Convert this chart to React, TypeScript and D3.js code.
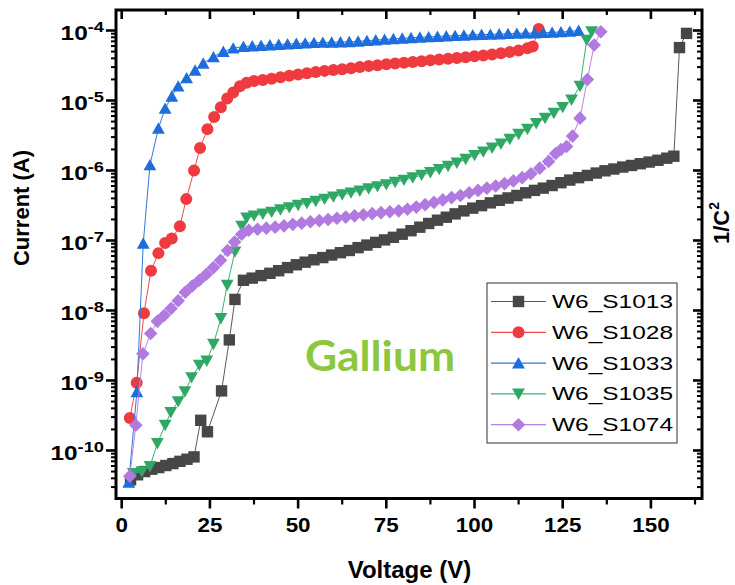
import React from 'react';
import * as d3 from 'd3';

// ---- data: I-V sweeps of five devices (voltage in V, current in A) ----
const seriesNames = ['W6_S1013', 'W6_S1028', 'W6_S1033', 'W6_S1035', 'W6_S1074'];

const voltS1013 = [2.5, 4.5, 6.5, 8.5, 10.5, 12.5, 14.5, 16.5, 18.5, 20.5, 22.4, 24.3, 28.3, 30.5, 32.1, 34.5,
  37, 39.5, 42, 44.5, 47, 49.5, 52, 54.5, 57, 59.5, 62, 64.5, 67, 69.5, 72, 74.5, 77, 79.5, 82, 84.5, 87, 89.5,
  92, 94.5, 97, 99.5, 102, 104.5, 107, 109.5, 112, 114.5, 117, 119.5, 122, 124.5, 127, 129.5, 132, 134.5, 137,
  139.5, 142, 144.5, 147, 149.5, 152, 154.5, 156.5, 158.1, 160.1];
const currS1013 = [3.8e-11, 4.5e-11, 5.0e-11, 5.4e-11, 5.7e-11, 6.1e-11, 6.5e-11, 7.0e-11, 7.5e-11, 8.1e-11, 2.7e-10,
  1.85e-10, 7.1e-10, 3.8e-9, 1.44e-8, 2.7e-8,
  2.9e-8, 3.15e-8, 3.4e-8, 3.7e-8, 4.1e-8, 4.5e-8, 4.9e-8, 5.3e-8, 5.7e-8, 6.2e-8, 6.7e-8, 7.2e-8, 7.9e-8, 8.6e-8,
  9.4e-8, 1.02e-7, 1.11e-7, 1.23e-7, 1.38e-7, 1.55e-7, 1.75e-7, 1.95e-7, 2.15e-7, 2.4e-7, 2.65e-7, 2.9e-7, 3.15e-7,
  3.45e-7, 3.75e-7, 4.05e-7, 4.4e-7, 4.8e-7, 5.2e-7, 5.6e-7, 6.1e-7, 6.7e-7, 7.3e-7, 7.9e-7, 8.5e-7, 9.2e-7,
  9.9e-7, 1.05e-6, 1.12e-6, 1.18e-6, 1.25e-6, 1.32e-6, 1.4e-6, 1.5e-6, 1.6e-6, 5.7e-5, 9.1e-5];

const voltS1028 = [2.3, 4.25, 6.3, 8.3, 10.4, 12.3, 14.2, 16.5, 18.3, 20.5, 22.2, 24.3, 26.2, 28.1, 29.9, 31.6, 33.5,
  35.4, 37.5, 40, 42.5, 45, 47.5, 50, 52.5, 55, 57.5, 60, 62.5, 65, 67.5, 70, 72.5, 75, 77.5, 80, 82.5, 85, 87.5,
  90, 92.5, 95, 97.5, 100, 102.5, 105, 107.5, 110, 112.5, 115, 116.5, 118.2];
const currS1028 = [2.9e-10, 9.3e-10, 9.1e-9, 3.7e-8, 6.6e-8, 9.2e-8, 1.07e-7, 1.6e-7, 3.9e-7, 1.0e-6, 2.1e-6, 3.9e-6,
  5.8e-6, 8.0e-6, 1.07e-5, 1.3e-5, 1.6e-5, 1.8e-5, 1.9e-5, 1.97e-5, 2.05e-5, 2.15e-5, 2.25e-5, 2.35e-5, 2.45e-5,
  2.55e-5, 2.65e-5, 2.72e-5, 2.8e-5, 2.9e-5, 3.0e-5, 3.1e-5, 3.2e-5, 3.3e-5, 3.38e-5, 3.45e-5, 3.55e-5, 3.65e-5,
  3.75e-5, 3.85e-5, 3.95e-5, 4.05e-5, 4.15e-5, 4.3e-5, 4.4e-5, 4.55e-5, 4.75e-5, 4.95e-5, 5.2e-5, 5.6e-5, 5.9e-5,
  1.05e-4];

const voltS1033 = [2.0, 4.3, 6.1, 8.0, 10.4, 12.3, 14.2, 16.0, 18.4, 20.8, 23.1, 26.0, 28.8, 31.6, 34.5, 37, 39.5,
  42, 44.5, 47, 49.5, 52, 54.5, 57, 59.5, 62, 64.5, 67, 69.5, 72, 74.5, 77, 79.5, 82, 84.5, 87, 89.5, 92, 94.5, 97,
  99.5, 102, 104.5, 107, 109.5, 112, 114.5, 117, 119.5, 122, 124.5, 127, 129.5];
const currS1033 = [3.5e-11, 6.9e-10, 9.1e-8, 1.2e-6, 4.0e-6, 7.7e-6, 1.15e-5, 1.6e-5, 2.1e-5, 2.7e-5, 3.4e-5, 4.2e-5,
  5.0e-5, 5.6e-5, 5.9e-5, 6.0e-5, 6.1e-5, 6.2e-5, 6.3e-5, 6.4e-5, 6.5e-5, 6.6e-5, 6.7e-5, 6.75e-5, 6.8e-5, 6.85e-5,
  6.9e-5, 7.0e-5, 7.15e-5, 7.3e-5, 7.45e-5, 7.6e-5, 7.75e-5, 7.85e-5, 8.0e-5, 8.1e-5, 8.2e-5, 8.35e-5, 8.45e-5,
  8.55e-5, 8.65e-5, 8.75e-5, 8.8e-5, 8.9e-5, 9.0e-5, 9.1e-5, 9.15e-5, 9.2e-5, 9.3e-5, 9.4e-5, 9.55e-5, 9.7e-5,
  1.0e-4];

const voltS1035 = [3.3, 5.7, 8.0, 10.1, 12.3, 13.9, 16.0, 17.9, 19.8, 22.0, 24.1, 26.0, 28.1, 29.9, 32.1, 34.0, 35.4,
  37.5, 40, 42.5, 45, 47.5, 50, 52.5, 55, 57.5, 60, 62.5, 65, 67.5, 70, 72.5, 75, 77.5, 80, 82.5, 85, 87.5, 90, 92.5,
  95, 97.5, 100, 102.5, 105, 107.5, 110, 112.5, 115, 117.5, 120, 122.5, 125, 127.5, 129.9, 131.8, 133.2];
const currS1035 = [4.7e-11, 5.0e-11, 5.9e-11, 1.26e-10, 2.3e-10, 3.5e-10, 5.0e-10, 6.9e-10, 1.1e-9, 1.66e-9, 1.9e-9,
  3.3e-9, 7.7e-9, 2.3e-8, 6.9e-8, 1.6e-7, 2.1e-7, 2.25e-7, 2.4e-7, 2.55e-7, 2.75e-7, 2.95e-7, 3.2e-7, 3.4e-7,
  3.65e-7, 3.9e-7, 4.2e-7, 4.5e-7, 4.8e-7, 5.1e-7, 5.5e-7, 5.9e-7, 6.3e-7, 6.8e-7, 7.3e-7, 7.9e-7, 8.6e-7, 9.4e-7,
  1.04e-6, 1.15e-6, 1.28e-6, 1.45e-6, 1.65e-6, 1.85e-6, 2.1e-6, 2.4e-6, 2.8e-6, 3.3e-6, 3.9e-6, 4.7e-6, 5.6e-6,
  6.6e-6, 8.0e-6, 1.02e-5, 1.6e-5, 7.3e-5, 9.6e-5];

const voltS1074 = [2.3, 4.0, 6.0, 8.2, 10.1, 12, 14, 16, 18, 20, 22, 24, 26, 28, 30, 32, 34, 36, 38.5, 41, 43.5, 46,
  48.5, 51, 53.5, 56, 58.5, 61, 63.5, 66, 68.5, 71, 73.5, 76, 78.5, 81, 83.5, 86, 88.5, 91, 93.5, 96, 98.5, 101,
  103.5, 106, 108.5, 111, 113.5, 116, 118.5, 121, 123, 124.5, 126.1, 127.8, 129.9, 132, 133.9, 135.8];
const currS1074 = [4.3e-11, 2.3e-10, 2.4e-9, 4.7e-9, 7.0e-9, 8.5e-9, 1.07e-8, 1.38e-8, 1.82e-8, 2.24e-8, 2.7e-8,
  3.3e-8, 4.1e-8, 5.2e-8, 7.2e-8, 9.5e-8, 1.23e-7, 1.4e-7, 1.45e-7, 1.5e-7, 1.55e-7, 1.62e-7, 1.7e-7, 1.77e-7,
  1.85e-7, 1.92e-7, 2.0e-7, 2.08e-7, 2.16e-7, 2.25e-7, 2.33e-7, 2.42e-7, 2.5e-7, 2.58e-7, 2.65e-7, 2.8e-7, 3.0e-7,
  3.25e-7, 3.5e-7, 3.8e-7, 4.1e-7, 4.4e-7, 4.8e-7, 5.2e-7, 5.6e-7, 6.0e-7, 6.5e-7, 7.1e-7, 7.9e-7, 9.0e-7, 1.08e-6,
  1.35e-6, 1.75e-6, 2.0e-6, 2.2e-6, 3.1e-6, 5.6e-6, 2.0e-5, 6.2e-5, 9.6e-5];

const xTickValues = [0, 25, 50, 75, 100, 125, 150];
const xMinorValues = [12.5, 37.5, 62.5, 87.5, 112.5, 137.5, 162.5];
const yDecades = [-10, -9, -8, -7, -6, -5, -4];

// ---- styling ----
const markerColors = ['#474747', '#ef3b3f', '#1d6edc', '#2fa866', '#b07ae0'];
const lineColors = ['#5a5a5a', '#f0494c', '#2f78e0', '#3cb070', '#b485e3'];
const shapes = ['square', 'circle', 'triangleUp', 'triangleDown', 'diamond'];
const FONT = "'Liberation Sans', Arial, Helvetica, sans-serif";

const volts = [voltS1013, voltS1028, voltS1033, voltS1035, voltS1074];
const currents = [currS1013, currS1028, currS1033, currS1035, currS1074];

const frame = { left: 116, right: 702, top: 10, bottom: 498.5 };

const x = d3.scaleLinear().domain([-1.62, 164.48]).range([frame.left, frame.right]);
const y = d3.scaleLog().domain([Math.pow(10, -10.686), Math.pow(10, -3.707)]).range([frame.bottom, frame.top]);

function markerPath(shape: string, cx: number, cy: number): string {
  switch (shape) {
    case 'square':
      return `M${cx - 5.7},${cy - 5.7}h11.4v11.4h-11.4Z`;
    case 'triangleUp':
      return `M${cx},${cy - 6}L${cx + 6.4},${cy + 5.4}L${cx - 6.4},${cy + 5.4}Z`;
    case 'triangleDown':
      return `M${cx},${cy + 6}L${cx + 6.4},${cy - 5.4}L${cx - 6.4},${cy - 5.4}Z`;
    case 'diamond':
      return `M${cx},${cy - 6.8}L${cx + 6.8},${cy}L${cx},${cy + 6.8}L${cx - 6.8},${cy}Z`;
    default: {
      const r = 6;
      return `M${cx - r},${cy}a${r},${r} 0 1,0 ${2 * r},0a${r},${r} 0 1,0 ${-2 * r},0Z`;
    }
  }
}

export default function App() {
  const line = d3
    .line<[number, number]>()
    .x((d) => x(d[0]))
    .y((d) => y(d[1]));

  const minorY: number[] = [];
  for (let e = -11; e <= -4; e++) {
    for (let m = 2; m <= 9; m++) {
      const v = m * Math.pow(10, e);
      if (v > y.domain()[0] && v < y.domain()[1]) minorY.push(v);
    }
  }

  const legendX = 487;
  const legendTop = 283;
  const rowY = (i: number) => 301.5 + i * 30.8;

  return (
    <svg
      width={735}
      height={585}
      style={{ position: 'absolute', left: 0, top: 0, background: '#fff' }}
      fontFamily={FONT}
    >
      <rect x={0} y={0} width={735} height={585} fill="#fff" />

      {/* series */}
      {seriesNames.map((name, i) => {
        const pts = volts[i].map((v, k) => [v, currents[i][k]] as [number, number]);
        return (
          <g key={name}>
            <path d={line(pts) || ''} fill="none" stroke={lineColors[i]} strokeWidth={1} />
            {pts.map((p, k) => (
              <path key={k} d={markerPath(shapes[i], x(p[0]), y(p[1]))} fill={markerColors[i]} />
            ))}
          </g>
        );
      })}

      {/* frame */}
      <rect
        x={frame.left}
        y={frame.top}
        width={frame.right - frame.left}
        height={frame.bottom - frame.top}
        fill="none"
        stroke="#000"
        strokeWidth={3}
      />

      {/* x ticks: outward at bottom, inward at top */}
      {xTickValues.map((v) => (
        <g key={'xt' + v}>
          <line x1={x(v)} x2={x(v)} y1={frame.bottom} y2={frame.bottom + 10} stroke="#000" strokeWidth={2.6} />
          <line x1={x(v)} x2={x(v)} y1={frame.top} y2={frame.top + 9} stroke="#000" strokeWidth={2.6} />
          <g transform={`translate(${x(v)},532) scale(1.12,1)`}>
            <text textAnchor="middle" fontSize={20} fontWeight="bold" fill="#000">
              {v}
            </text>
          </g>
        </g>
      ))}
      {xMinorValues.map((v) => (
        <g key={'xm' + v}>
          <line x1={x(v)} x2={x(v)} y1={frame.bottom} y2={frame.bottom + 6} stroke="#000" strokeWidth={2.2} />
          <line x1={x(v)} x2={x(v)} y1={frame.top} y2={frame.top + 5} stroke="#000" strokeWidth={2.2} />
        </g>
      ))}

      {/* y ticks: outward at left, inward at right */}
      {yDecades.map((e) => {
        const yy = y(Math.pow(10, e));
        return (
          <g key={'yt' + e}>
            <line x1={frame.left - 10} x2={frame.left} y1={yy} y2={yy} stroke="#000" strokeWidth={2.6} />
            <line x1={frame.right - 9} x2={frame.right} y1={yy} y2={yy} stroke="#000" strokeWidth={2.6} />
            <g transform={`translate(104,${yy}) scale(1.22,1)`}>
              <text textAnchor="end" y={9.5} fontWeight="bold" fill="#000">
                <tspan fontSize={20}>10</tspan>
                <tspan fontSize={15} dy={-8}>{e}</tspan>
              </text>
            </g>
          </g>
        );
      })}
      {minorY.map((v, k) => (
        <g key={'ym' + k}>
          <line x1={frame.left - 5} x2={frame.left} y1={y(v)} y2={y(v)} stroke="#000" strokeWidth={2} />
          <line x1={frame.right - 5} x2={frame.right} y1={y(v)} y2={y(v)} stroke="#000" strokeWidth={2} />
        </g>
      ))}

      {/* axis titles */}
      <text x={409.5} y={578} textAnchor="middle" fontSize={24} fontWeight="bold" fill="#000">
        Voltage (V)
      </text>
      <text
        transform="translate(29,208) rotate(-90)"
        textAnchor="middle"
        fontSize={22}
        fontWeight="bold"
        fill="#000"
      >
        Current (A)
      </text>
      <text transform="translate(729,223) rotate(-90)" textAnchor="middle" fontWeight="bold" fill="#000">
        <tspan fontSize={22}>1/C</tspan>
        <tspan fontSize={14} dy={-10}>2</tspan>
      </text>

      {/* annotation */}
      <text
        x={305}
        y={371}
        fontFamily="Lato, 'Open Sans', sans-serif"
        fontSize={42}
        fontWeight={700}
        fill="#8dc63f"
        textLength={150}
        lengthAdjust="spacingAndGlyphs"
      >
        Gallium
      </text>

      {/* legend */}
      <rect x={legendX} y={legendTop} width={190} height={160} fill="#fff" stroke="#333" strokeWidth={1} />
      {seriesNames.map((name, i) => (
        <g key={'lg' + name}>
          <line x1={491} x2={546} y1={rowY(i)} y2={rowY(i)} stroke={lineColors[i]} strokeWidth={1.2} />
          <path d={markerPath(shapes[i], 518.5, rowY(i))} fill={markerColors[i]} />
          <text
            x={552}
            y={rowY(i) + 6.5}
            fontSize={19}
            fill="#000"
            textLength={121}
            lengthAdjust="spacingAndGlyphs"
          >
            {name}
          </text>
        </g>
      ))}
    </svg>
  );
}
